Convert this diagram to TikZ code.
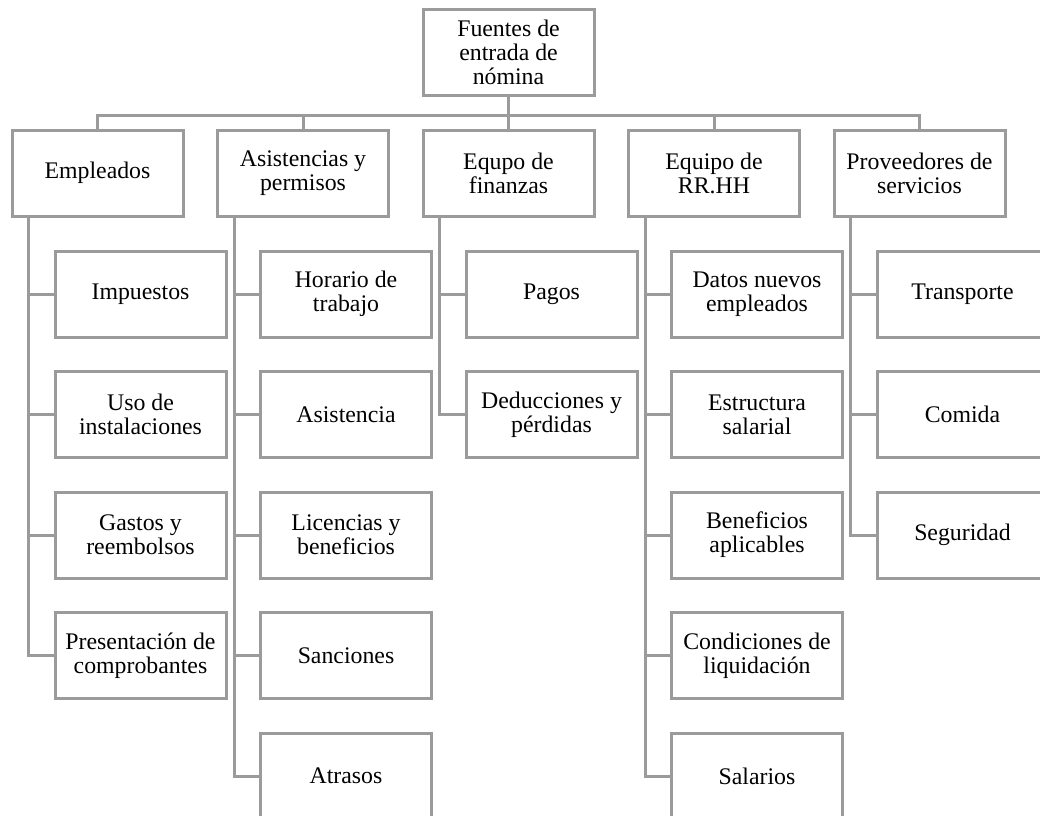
\documentclass[tikz,border=0pt]{standalone}
\usepackage{fontspec}
\setmainfont{Liberation Serif}
\usepackage{tikz}
\usetikzlibrary{calc,positioning}
\definecolor{linegray}{RGB}{155,155,155}

\begin{document}
\begin{tikzpicture}[x=1pt,y=-1pt,
                    box/.style={draw=linegray,line width=3pt,fill=white,minimum width=171pt,minimum height=86pt,
                                inner sep=2pt,align=center,font=\fontsize{23.8pt}{24pt}\selectfont},
                    conn/.style={draw=linegray,line width=3pt}]
\useasboundingbox (0,0) rectangle (1040,815);
\clip (0,0) rectangle (1040,815);

\node[box] (root) at (508.5,52) {Fuentes de\\entrada de\\nómina};

\node[box] (emp)  at (97.5,173)  {Empleados};
\node[box] (asis) at (303,173)   {Asistencias y\\permisos};
\node[box] (fin)  at (508.5,173) {Equpo de\\finanzas};
\node[box] (rrhh) at (714,173)   {Equipo de\\RR.HH};
\node[box] (prov) at (919.5,173) {Proveedores de\\servicios};

\coordinate (bus) at (508.5,115);
\draw[conn] (root.south) -- (bus);
\draw[conn] (emp.north) |- (bus) -| (prov.north);
\draw[conn] (asis.north) -- (asis.north |- bus);
\draw[conn] (fin.north) -- (fin.north |- bus);
\draw[conn] (rrhh.north) -- (rrhh.north |- bus);

% children of each group
\foreach \t [count=\i] in {Impuestos,{Uso de\\instalaciones},{Gastos y\\reembolsos},{Presentación de\\comprobantes}}
   {\node[box] (emp\i) at (140.5,{294+120.5*(\i-1)}) {\t};
    \draw[conn] ([xshift=18pt]emp.south west) |- (emp\i.west);}

\foreach \t [count=\i] in {{Horario de\\trabajo},Asistencia,{Licencias y\\beneficios},Sanciones,Atrasos}
   {\node[box] (asis\i) at (346,{294+120.5*(\i-1)}) {\t};
    \draw[conn] ([xshift=18pt]asis.south west) |- (asis\i.west);}

\foreach \t [count=\i] in {Pagos,{Deducciones y\\pérdidas}}
   {\node[box] (fin\i) at (551.5,{294+120.5*(\i-1)}) {\t};
    \draw[conn] ([xshift=18pt]fin.south west) |- (fin\i.west);}

\foreach \t [count=\i] in {{Datos nuevos\\empleados},{Estructura\\salarial},{Beneficios\\aplicables},{Condiciones de\\liquidación},Salarios}
   {\node[box] (rrhh\i) at (757,{294+120.5*(\i-1)}) {\t};
    \draw[conn] ([xshift=18pt]rrhh.south west) |- (rrhh\i.west);}

\foreach \t [count=\i] in {Transporte,Comida,Seguridad}
   {\node[box] (prov\i) at (962.5,{294+120.5*(\i-1)}) {\t};
    \draw[conn] ([xshift=18pt]prov.south west) |- (prov\i.west);}

\end{tikzpicture}
\end{document}
